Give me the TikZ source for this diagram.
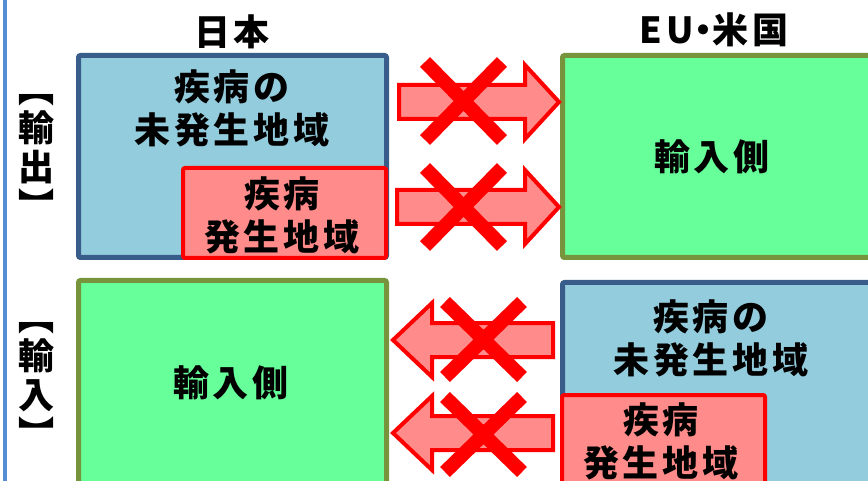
\documentclass[tikz,border=0pt]{standalone}
\usepackage{fontspec}
\usepackage{xcolor}
\usepackage{tikz}
\usetikzlibrary{positioning,calc}
\newfontfamily\jp[LetterSpace=11]{Noto Sans CJK JP}
\newfontfamily\jpv{Noto Sans CJK JP}
\definecolor{fillblue}{HTML}{93CDDD}
\definecolor{edgeblue}{HTML}{385D8A}
\definecolor{fillred}{HTML}{FF8B8B}
\definecolor{fillgreen}{HTML}{66FF99}
\definecolor{edgegreen}{HTML}{77933C}
\definecolor{lineblue}{HTML}{558ED5}
\tikzset{
  Bbox/.style={draw=edgeblue, line width=5pt, fill=fillblue, rounded corners=2pt,
               inner sep=0pt},
  Rbox/.style={draw=red, line width=4pt, fill=fillred, rounded corners=2pt,
               inner sep=0pt},
  Gbox/.style={draw=edgegreen, line width=5pt, fill=fillgreen, rounded corners=2pt,
               inner sep=0pt},
  Jtxt/.style={font=\jp\bfseries\fontsize{36}{43}\selectfont, align=center,
               inner sep=0pt},
  Vtxt/.style={font=\jpv\bfseries\fontsize{36}{39}\selectfont, align=center,
               inner sep=0pt},
  Barr/.style={draw=red, line width=4pt, fill=fillred, line join=miter},
  Xcross/.style={draw=red, line width=14pt}
}
\newcommand{\blockarr}[4]{%
  \draw[Barr] (#1,#4-17) -- (#2,#4-17) -- (#2,#4-37) -- (#3,#4)
    -- (#2,#4+37) -- (#2,#4+17) -- (#1,#4+17) -- cycle;}

\begin{document}
\begin{tikzpicture}[x=1pt, y=-1pt]
  \clip (0,0) rectangle (868,481);
  \draw[lineblue, line width=4pt] (5,0) -- (5,481);

  \node[Jtxt] (jplbl) at (232,32) {日本};
  \node[Jtxt] (eulbl) at (714,30) {EU\kern-9pt・\kern-9pt米国};

  \node[Vtxt] (outlbl) at (36,157) {︻\\輸\\出\\︼};
  \node[Vtxt] (inlbl) at (36,385) {︻\\輸\\入\\︼};

  \node[Bbox, minimum width=308pt, minimum height=202pt] (jpfree) at (232.5,156.5) {};
  \node[Rbox, minimum width=203pt, minimum height=90pt] (jpsick) at (284.5,213) {};
  \node[Jtxt] at (232,108.5) {疾病の\\未発生地域};
  \node[Jtxt] at (282,215) {疾病\\発生地域};

  \node[Gbox, minimum width=330pt, minimum height=202pt] (euimp) at (727.5,156.5) {};
  \node[Jtxt] at (712,157) {輸入側};

  \node[Gbox, minimum width=308pt, minimum height=240pt] (jpimp) at (232.5,400.5) {};
  \node[Jtxt] at (231,383) {輸入側};

  \node[Bbox, minimum width=330pt, minimum height=240pt] (eufree) at (727.5,402.5) {};
  \node[Rbox, minimum width=203pt, minimum height=120pt] (eusick) at (663.5,455) {};
  \node[Jtxt] at (711,338.5) {疾病の\\未発生地域};
  \node[Jtxt] at (661,441) {疾病\\発生地域};

  \blockarr{399}{525}{559}{102}
  \blockarr{397}{525}{559}{207}
  \blockarr{553}{432}{393}{340}
  \blockarr{553}{432}{393}{433}

  \draw[Xcross] (425,62) -- (502,140) (502,62) -- (425,140);
  \draw[Xcross] (425,168) -- (502,246) (502,168) -- (425,246);
  \draw[Xcross] (445,302) -- (522,377) (522,302) -- (445,377);
  \draw[Xcross] (445,397) -- (522,472) (522,397) -- (445,472);
\end{tikzpicture}
\end{document}
